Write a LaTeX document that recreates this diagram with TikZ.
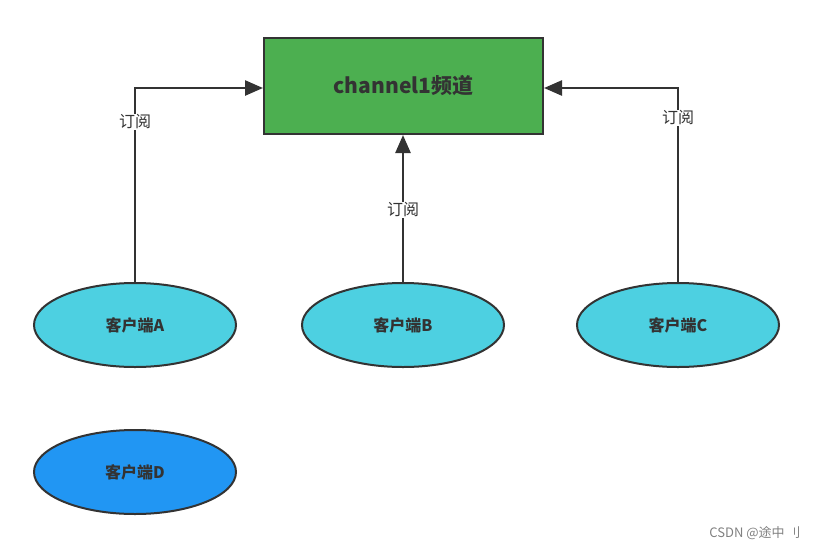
\documentclass[tikz,border=0pt]{standalone}
\usepackage{fontspec}
\setmainfont{Noto Sans CJK SC}
\usetikzlibrary{arrows.meta,shapes.geometric}
\definecolor{gr}{HTML}{4CAF50}
\definecolor{cy}{HTML}{4DD0E1}
\definecolor{bl}{HTML}{2196F3}
\definecolor{ln}{HTML}{333333}
\begin{document}
\begin{tikzpicture}[x=1pt,y=-1pt,
 ell/.style={ellipse,draw=ln,line width=2pt,minimum width=202pt,minimum height=84pt,inner sep=0pt,font=\fontsize{16}{18}\selectfont\bfseries,text=ln},
 con/.style={draw=ln,line width=2.5pt,-{Triangle[length=18pt,width=15pt]}},
 lab/.style={fill=white,inner sep=1pt,font=\fontsize{16}{18}\selectfont,text=ln}]
\useasboundingbox (0,0) rectangle (817,550);
\node[draw=ln,line width=2pt,fill=gr,minimum width=279pt,minimum height=96pt,font=\fontsize{21}{24}\selectfont\bfseries,text=ln] (ch) at (403.5,86) {channel1频道};
\node[ell,fill=cy] (a) at (135,325) {客户端A};
\node[ell,fill=cy] (b) at (403,325) {客户端B};
\node[ell,fill=cy] (c) at (678,325) {客户端C};
\node[ell,fill=bl] (d) at (135,472) {客户端D};
\draw[con] (a.north) |- (ch.west |- 0,88);
\draw[con] (b.north) -- (b.north |- ch.south);
\draw[con] (c.north) |- (ch.east |- 0,88);
\node[lab] (la) at (135,122) {订阅};
\node[lab] (lb) at (403,210) {订阅};
\node[lab] (lc) at (678,118) {订阅};
\node[font=\fontsize{13}{15}\selectfont,text=gray] (w) at (755,533) {CSDN @途中 刂};
\end{tikzpicture}
\end{document}
